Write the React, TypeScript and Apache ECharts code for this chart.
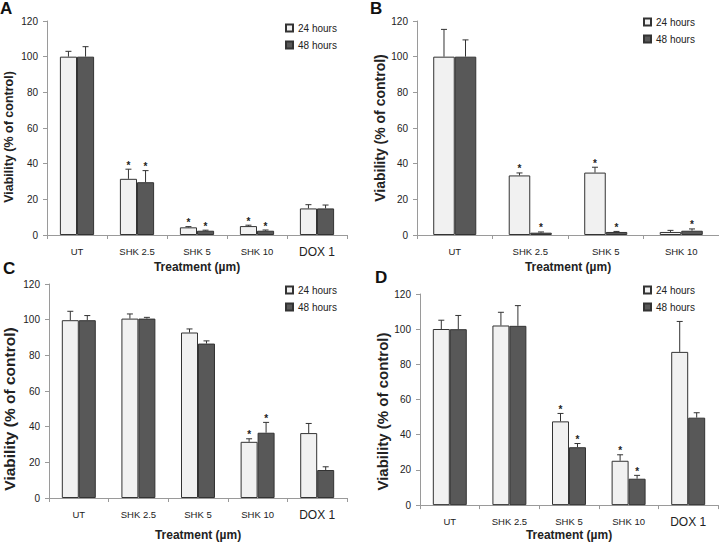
import React, { useEffect, useRef } from "react";
import * as echarts from "echarts";

// ---------- data ----------
const catsACD = ["UT", "SHK 2.5", "SHK 5", "SHK 10", "DOX 1"];
const catsB = ["UT", "SHK 2.5", "SHK 5", "SHK 10"];
const yTicks = [0, 20, 40, 60, 80, 100, 120];

const a24 = [100, 31.5, 4.3, 5.0, 14.9];
const a24Sd = [3.0, 5.4, 0.4, 0.5, 2.1];
const a48 = [100, 29.6, 2.4, 2.4, 14.9];
const a48Sd = [5.6, 6.5, 0.3, 0.4, 1.9];
const a24Star = [0, 1, 1, 1, 0];
const a48Star = [0, 1, 1, 1, 0];

const b24 = [100, 33.4, 35.0, 1.7];
const b24Sd = [15.3, 1.4, 3.0, 0.9];
const b48 = [100, 1.3, 1.7, 2.4];
const b48Sd = [9.4, 0.4, 0.3, 1.0];
const b24Star = [0, 1, 1, 0];
const b48Star = [0, 1, 1, 1];

const c24 = [99.7, 100.6, 92.8, 31.5, 36.4];
const c24Sd = [5.0, 2.6, 2.0, 1.7, 5.4];
const c48 = [99.7, 100.6, 86.6, 36.6, 15.7];
const c48Sd = [2.6, 0.7, 1.5, 5.8, 1.8];
const c24Star = [0, 0, 0, 1, 0];
const c48Star = [0, 0, 0, 1, 0];

const d24 = [100.1, 102.1, 47.6, 25.2, 87.1];
const d24Sd = [5.0, 7.5, 4.5, 3.4, 17.3];
const d48 = [100, 101.9, 32.9, 15.0, 49.7];
const d48Sd = [7.8, 11.5, 2.1, 1.9, 2.8];
const d24Star = [0, 0, 1, 1, 0];
const d48Star = [0, 0, 1, 1, 0];

const seriesNames = ["24 hours", "48 hours"];
const panelLetters = ["A", "B", "C", "D"];
const xTitle = "Treatment (µm)";
const yTitle = "Viability (% of control)";

// ---------- styles ----------
const FONT = "Liberation Sans, Arial, sans-serif";
const LIGHT = "#f1f1f1";
const DARK = "#585858";
const EDGE = "#333333";
const AXIS = "#9a9a9a";
const GAP = 0.43;

type Panel = {
  cats: string[];
  v24: number[]; s24: number[]; st24: number[];
  v48: number[]; s48: number[]; st48: number[];
  grid: { left: number; top: number; width: number; height: number };
  xNameGap: number;
  yNameGap: number;
  yFont: number;
  yShift: number;
  legend: { left: number; top: number };
  letter: { left: number; top: number };
};

const panels: Panel[] = [
  {
    cats: catsACD, v24: a24, s24: a24Sd, st24: a24Star, v48: a48, s48: a48Sd, st48: a48Star,
    grid: { left: 47, top: 21, width: 300, height: 214 },
    xNameGap: 26, yNameGap: 32, yFont: 12.5, yShift: 9,
    legend: { left: 285, top: 23 }, letter: { left: 0, top: 0 },
  },
  {
    cats: catsB, v24: b24, s24: b24Sd, st24: b24Star, v48: b48, s48: b48Sd, st48: b48Star,
    grid: { left: 417, top: 21, width: 302, height: 214 },
    xNameGap: 26, yNameGap: 30, yFont: 14, yShift: 0,
    legend: { left: 643, top: 17 }, letter: { left: 370, top: 0 },
  },
  {
    cats: catsACD, v24: c24, s24: c24Sd, st24: c24Star, v48: c48, s48: c48Sd, st48: c48Star,
    grid: { left: 49, top: 284, width: 298, height: 215 },
    xNameGap: 31, yNameGap: 32, yFont: 15.5, yShift: 18,
    legend: { left: 285, top: 285 }, letter: { left: 3, top: 260 },
  },
  {
    cats: catsACD, v24: d24, s24: d24Sd, st24: d24Star, v48: d48, s48: d48Sd, st48: d48Star,
    grid: { left: 420, top: 294, width: 298, height: 213 },
    xNameGap: 21, yNameGap: 30, yFont: 15, yShift: 12,
    legend: { left: 643, top: 285 }, letter: { left: 375, top: 269 },
  },
];

const renderErr = (params: any, api: any) => {
  const cat = api.value(0);
  const val = api.value(1);
  const sd = api.value(2);
  const star = api.value(3);
  const slot = api.value(4);
  const base = api.coord([cat, val]);
  const band = api.size([1, 0])[0];
  const bw = (band * (1 - GAP)) / 2;
  const cx = base[0] + (slot === 0 ? -bw / 2 : bw / 2);
  const topY = api.coord([cat, val + sd])[1];
  const children: any[] = [];
  if (sd > 0) {
    children.push({
      type: "line",
      shape: { x1: cx, y1: base[1], x2: cx, y2: topY },
      style: { stroke: EDGE, lineWidth: 1 },
    });
    children.push({
      type: "line",
      shape: { x1: cx - 3, y1: topY, x2: cx + 3, y2: topY },
      style: { stroke: EDGE, lineWidth: 1 },
    });
  }
  if (star) {
    children.push({
      type: "text",
      x: cx,
      y: topY - 4,
      style: {
        text: "*",
        fill: "#222",
        font: `bold 10px ${FONT}`,
        align: "center",
        verticalAlign: "middle",
      },
    });
  }
  return { type: "group", children };
};

function buildOption() {
  const grid: any[] = [];
  const xAxis: any[] = [];
  const yAxis: any[] = [];
  const series: any[] = [];
  const legend: any[] = [];
  const graphic: any[] = [];

  panels.forEach((p, i) => {
    grid.push({ ...p.grid, containLabel: false });
    xAxis.push({
      type: "category",
      gridIndex: i,
      data: p.cats,
      name: xTitle,
      nameLocation: "middle",
      nameGap: p.xNameGap,
      nameTextStyle: { fontFamily: FONT, fontWeight: "bold", fontSize: 12, color: "#222" },
      axisLine: { show: true, lineStyle: { color: AXIS, width: 1 } },
      axisTick: { show: true, length: 4, lineStyle: { color: AXIS } },
      axisLabel: {
        fontFamily: FONT,
        fontSize: 9.5,
        color: "#222",
        margin: 11,
        interval: 0,
        formatter: (v: string) => (v === "DOX 1" ? `{big|${v}}` : v),
        rich: { big: { fontFamily: FONT, fontSize: 12, color: "#222" } },
      },
      splitLine: { show: false },
    });
    yAxis.push({
      type: "value",
      gridIndex: i,
      min: yTicks[0],
      max: yTicks[yTicks.length - 1],
      interval: yTicks[1] - yTicks[0],
      name: yTitle,
      nameLocation: "middle",
      nameGap: p.yNameGap,
      nameTextStyle: {
        fontFamily: FONT,
        fontWeight: "bold",
        fontSize: p.yFont,
        color: "#222",
        padding: [0, 2 * p.yShift, 0, 0],
      },
      axisLine: { show: true, lineStyle: { color: AXIS, width: 1 } },
      axisTick: { show: true, length: 4, lineStyle: { color: AXIS } },
      axisLabel: { fontFamily: FONT, fontSize: 10, color: "#222", margin: 9 },
      splitLine: { show: false },
    });
    series.push({
      type: "bar",
      name: seriesNames[0],
      xAxisIndex: i,
      yAxisIndex: i,
      data: p.v24,
      barGap: "0%",
      barCategoryGap: `${GAP * 100}%`,
      itemStyle: { color: LIGHT, borderColor: EDGE, borderWidth: 1 },
    });
    series.push({
      type: "bar",
      name: seriesNames[1],
      xAxisIndex: i,
      yAxisIndex: i,
      data: p.v48,
      barGap: "0%",
      barCategoryGap: `${GAP * 100}%`,
      itemStyle: { color: DARK, borderColor: EDGE, borderWidth: 1 },
    });
    const errData: any[] = [];
    p.cats.forEach((_, k) => {
      errData.push([k, p.v24[k], p.s24[k], p.st24[k], 0]);
      errData.push([k, p.v48[k], p.s48[k], p.st48[k], 1]);
    });
    series.push({
      type: "custom",
      name: "err" + i,
      xAxisIndex: i,
      yAxisIndex: i,
      data: errData,
      encode: { x: 0, y: 1 },
      renderItem: renderErr,
      z: 5,
      silent: true,
    });
    legend.push({
      data: seriesNames,
      orient: "vertical",
      left: p.legend.left,
      top: p.legend.top,
      itemWidth: 7,
      itemHeight: 7,
      itemGap: 7,
      icon: "rect",
      padding: 0,
      textStyle: { fontFamily: FONT, fontSize: 10, color: "#222" },
    });
    graphic.push({
      type: "text",
      left: p.letter.left,
      top: p.letter.top,
      style: { text: panelLetters[i], font: `bold 17px ${FONT}`, fill: "#111" },
    });
  });

  return {
    animation: false,
    backgroundColor: "#ffffff",
    textStyle: { fontFamily: FONT },
    grid,
    xAxis,
    yAxis,
    series,
    legend,
    graphic,
  };
}

export default function App() {
  const ref = useRef<HTMLDivElement>(null);
  useEffect(() => {
    if (!ref.current) return;
    const chart = echarts.init(ref.current, undefined, { renderer: "svg" });
    chart.setOption(buildOption() as any);
    return () => chart.dispose();
  }, []);
  return (
    <div
      ref={ref}
      style={{ position: "fixed", left: 0, top: 0, width: 719, height: 542, background: "#fff" }}
    />
  );
}
